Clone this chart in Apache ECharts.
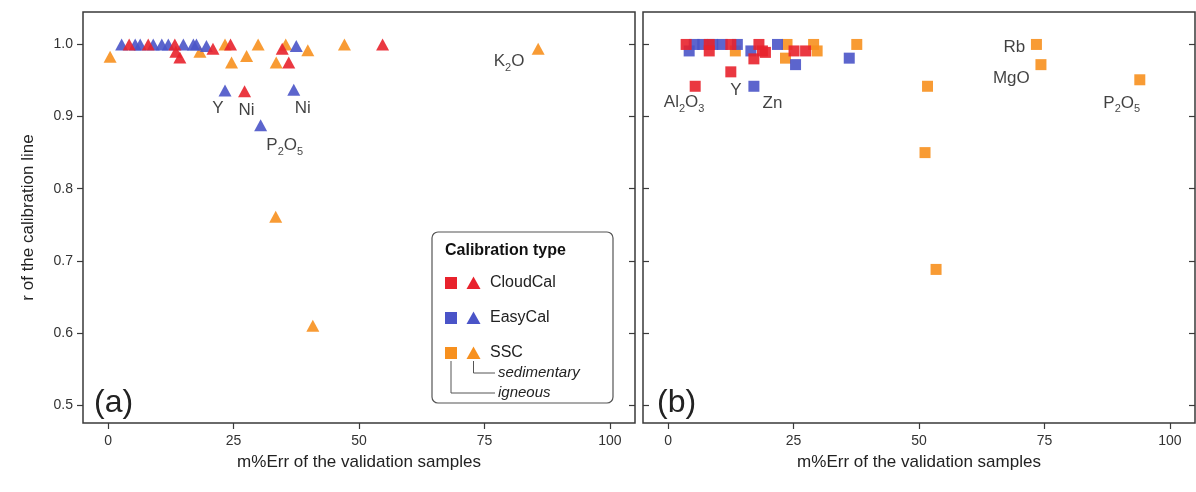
<!DOCTYPE html>
<html>
<head>
<meta charset="utf-8">
<script src="https://cdn.jsdelivr.net/npm/echarts@6/dist/echarts.min.js"></script>
<style>
  html, body { margin: 0; padding: 0; background: #fff; }
  #chart { width: 1196px; height: 492px; }
</style>
</head>
<body>
<div id="chart"></div>
<script>
// axis ticks
const xTicks = [0, 25, 50, 75, 100]
const yTicks = [0.5, 0.6, 0.7, 0.8, 0.9, 1.0]

// panel (a): sedimentary/igneous triangles, [m%Err, r]
const aCloudCal = [[4.2, 1.0], [8.0, 1.0], [13.3, 1.0], [20.9, 0.994], [24.4, 1.0], [34.7, 0.994], [54.7, 1.0],
  [13.5, 0.990], [14.3, 0.982], [36.0, 0.975], [27.2, 0.935]]
const aEasyCal = [[2.7, 1.0], [5.4, 1.0], [6.4, 1.0], [9.0, 1.0], [10.7, 1.0], [12.0, 1.0], [15.0, 1.0], [17.0, 1.0],
  [17.6, 1.0], [19.6, 0.998], [37.5, 0.998], [23.3, 0.936], [37.0, 0.937], [30.4, 0.888]]
const aSSC = [[0.4, 0.983], [18.3, 0.990], [23.3, 1.0], [29.9, 1.0], [35.4, 1.0], [39.8, 0.992], [47.1, 1.0],
  [27.6, 0.984], [24.6, 0.975], [33.5, 0.975], [33.4, 0.761], [40.8, 0.610], [85.7, 0.994]]
const aLabels = [['Y', 21.9, 0.911], ['Ni', 27.6, 0.908], ['Ni', 38.8, 0.912], ['P2O5', 35.2, 0.860], ['K2O', 79.9, 0.976]]

// panel (b): squares
const bCloudCal = [[3.6, 1.0], [8.2, 1.0], [12.5, 1.0], [18.1, 1.0], [8.2, 0.991], [18.8, 0.991], [19.4, 0.989],
  [25.1, 0.991], [27.4, 0.991], [17.1, 0.980], [12.5, 0.962], [5.4, 0.942]]
const bEasyCal = [[5.2, 1.0], [6.9, 1.0], [8.9, 1.0], [10.8, 1.0], [13.8, 1.0], [21.8, 1.0], [4.2, 0.991],
  [16.5, 0.991], [25.4, 0.972], [36.1, 0.981], [17.1, 0.942]]
const bSSC = [[23.7, 1.0], [29.0, 1.0], [37.6, 1.0], [13.4, 0.991], [29.7, 0.991], [23.4, 0.981], [51.7, 0.942],
  [51.2, 0.850], [53.4, 0.688], [73.4, 1.0], [74.3, 0.972], [94.0, 0.951]]
const bLabels = [['Al2O3', 3.2, 0.920], ['Y', 13.5, 0.936], ['Zn', 20.8, 0.918], ['Rb', 69.0, 0.996],
  ['MgO', 68.4, 0.953], ['P2O5', 90.4, 0.919]]

const RED = '#e8222c'
const BLUE = '#4a54c8'
const ORANGE = '#f7901e'
const FONT = 'Liberation Sans, Arial, sans-serif'
const FRAME = '#3a3a3a'

const chart = echarts.init(document.getElementById('chart'), null, { renderer: 'canvas' })

const gridBox = { top: 12, height: 411, width: 552, show: true, borderColor: FRAME, borderWidth: 1.5, backgroundColor: '#fff' }

const xAxisFor = (gi) => ({
  type: 'value', gridIndex: gi, min: -5, max: 105,
  name: 'm%Err of the validation samples', nameLocation: 'middle', nameGap: 31,
  nameTextStyle: { fontFamily: FONT, fontSize: 17, color: '#222' },
  axisLine: { show: false, onZero: false },
  axisTick: { show: true, length: 6, customValues: xTicks, lineStyle: { color: FRAME, width: 1.2 } },
  axisLabel: { customValues: xTicks, margin: 11, fontFamily: FONT, fontSize: 14, color: '#333' },
  splitLine: { show: false }
})

const yAxisFor = (gi, position, withLabels, inside) => ({
  type: 'value', gridIndex: gi, min: 0.475, max: 1.045, position,
  name: withLabels ? 'r of the calibration line' : '', nameLocation: 'middle', nameGap: 46,
  nameTextStyle: { fontFamily: FONT, fontSize: 17, color: '#222' },
  axisLine: { show: false, onZero: false },
  axisTick: { show: true, inside, length: 6, customValues: yTicks, lineStyle: { color: FRAME, width: 1.2 } },
  axisLabel: { show: withLabels, customValues: yTicks, margin: 10, fontFamily: FONT, fontSize: 14, color: '#333',
    formatter: v => v.toFixed(1) },
  splitLine: { show: false }
})

const marks = (name, data, color, symbol, size, xi, yi) => ({
  name, type: 'scatter', xAxisIndex: xi, yAxisIndex: yi, data, symbol, symbolSize: size,
  itemStyle: { color, opacity: 0.9 }, silent: true, emphasis: { disabled: true }
})

const richLabel = {
  m: { fontFamily: FONT, fontSize: 17, color: '#111', lineHeight: 24 },
  s: { fontFamily: FONT, fontSize: 11, color: '#111', lineHeight: 11, verticalAlign: 'bottom' }
}
const labelSeries = (labels, xi, yi) => ({
  type: 'scatter', xAxisIndex: xi, yAxisIndex: yi, symbolSize: 0, silent: true,
  data: labels.map(l => ({ name: l[0], value: [l[1], l[2]] })),
  label: {
    show: true, position: 'inside', color: '#111', textBorderWidth: 0,
    formatter: p => p.name.replace(/([A-Za-z]+)/g, '{m|$1}').replace(/(\d)/g, '{s|$1}'),
    rich: richLabel
  }
})

const legendRows = [['CloudCal', RED, 283], ['EasyCal', BLUE, 318], ['SSC', ORANGE, 353]]
const legendGraphic = [
  { type: 'rect', shape: { x: 432, y: 232, width: 181, height: 171, r: 6 }, style: { fill: '#fff', stroke: '#555', lineWidth: 1.2 } },
  { type: 'text', x: 445, y: 251, style: { text: 'Calibration type', font: 'bold 16px ' + FONT, fill: '#111', verticalAlign: 'middle' } }
]
legendRows.forEach(([name, color, y]) => {
  legendGraphic.push(
    { type: 'rect', shape: { x: 445, y: y - 6, width: 12, height: 12 }, style: { fill: color } },
    { type: 'polygon', shape: { points: [[473.5, y - 6.5], [480.5, y + 6], [466.5, y + 6]] }, style: { fill: color } },
    { type: 'text', x: 490, y: y, style: { text: name, font: '16px ' + FONT, fill: '#222', verticalAlign: 'middle' } }
  )
})
legendGraphic.push(
  { type: 'polyline', shape: { points: [[451, 361], [451, 393], [495, 393]] }, style: { stroke: '#555', lineWidth: 1, fill: null } },
  { type: 'polyline', shape: { points: [[473.5, 361], [473.5, 373], [495, 373]] }, style: { stroke: '#555', lineWidth: 1, fill: null } },
  { type: 'text', x: 498, y: 373, style: { text: 'sedimentary', font: 'italic 15px ' + FONT, fill: '#222', verticalAlign: 'middle' } },
  { type: 'text', x: 498, y: 393, style: { text: 'igneous', font: 'italic 15px ' + FONT, fill: '#222', verticalAlign: 'middle' } }
)

chart.setOption({
  animation: false,
  backgroundColor: '#fff',
  grid: [
    Object.assign({ left: 83 }, gridBox),
    Object.assign({ left: 643 }, gridBox)
  ],
  xAxis: [xAxisFor(0), xAxisFor(1)],
  yAxis: [
    yAxisFor(0, 'left', true, false),
    yAxisFor(0, 'right', false, true),
    yAxisFor(1, 'left', false, true),
    yAxisFor(1, 'right', false, true)
  ],
  series: [
    marks('SSC', aSSC, ORANGE, 'triangle', [13, 12], 0, 0),
    marks('EasyCal', aEasyCal, BLUE, 'triangle', [13, 12], 0, 0),
    marks('CloudCal', aCloudCal, RED, 'triangle', [13, 12], 0, 0),
    labelSeries(aLabels, 0, 0),
    marks('SSC', bSSC, ORANGE, 'rect', 11, 1, 2),
    marks('EasyCal', bEasyCal, BLUE, 'rect', 11, 1, 2),
    marks('CloudCal', bCloudCal, RED, 'rect', 11, 1, 2),
    labelSeries(bLabels, 1, 2)
  ],
  graphic: legendGraphic.concat([
    { type: 'text', x: 94, y: 403, style: { text: '(a)', font: '32px ' + FONT, fill: '#222', verticalAlign: 'middle' } },
    { type: 'text', x: 657, y: 403, style: { text: '(b)', font: '32px ' + FONT, fill: '#222', verticalAlign: 'middle' } }
  ])
})
</script>
</body>
</html>
